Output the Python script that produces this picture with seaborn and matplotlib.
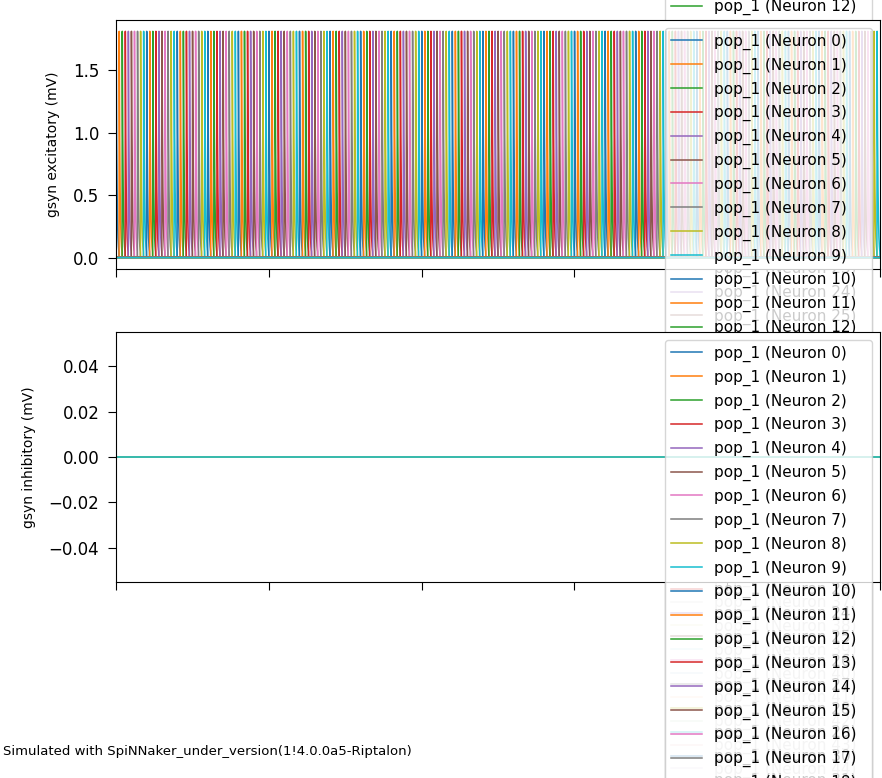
import numpy as np
import pandas as pd
import matplotlib
matplotlib.use("Agg")
import matplotlib.pyplot as plt
import seaborn as sns

# ---------------- data (read / estimated from the picture) ----------------
n_neurons = 200                      # pop_1 neurons (legend box sized for 3-digit labels)
sim_time_ms = 5000                   # x range: five equal tick intervals
time_step_ms = 1
chain_step_ms = 20                   # a synfire chain: neuron i is excited ~20 ms after neuron i-1
chain_loop_ms = 4000                 # the wave wraps round to neuron 0 after the last neuron
gsyn_exc_pulse = [0.0, 1.81, 1.48, 1.21, 0.99, 0.81, 0.67, 0.55, 0.45, 0.36,
                  0.30, 0.24, 0.20, 0.16, 0.13, 0.11, 0.09, 0.07, 0.06, 0.05]  # sampled pulse
gsyn_inh_level = 0.0                 # inhibitory conductance stays flat at 0
x_ticks = [0, 1000, 2000, 3000, 4000, 5000]
footer = "Simulated with SpiNNaker_under_version(1!4.0.0a5-Riptalon)"

labels = [f"pop_1 (Neuron {i})" for i in range(n_neurons)]
times = np.arange(0, sim_time_ms + time_step_ms, time_step_ms)

rows_exc, rows_inh = [], []
for i in range(n_neurons):
    trace = np.zeros(len(times))
    for loop_start in range(0, sim_time_ms, chain_loop_ms):
        t0 = loop_start + i * chain_step_ms
        for k, v in enumerate(gsyn_exc_pulse):
            idx = t0 + k
            if 0 <= idx < len(times):
                trace[idx] = max(trace[idx], v)
    rows_exc.append(pd.DataFrame({"t": times, "g": trace, "neuron": labels[i]}))
    rows_inh.append(pd.DataFrame({"t": times, "g": np.full(len(times), gsyn_inh_level),
                                  "neuron": labels[i]}))
df_exc = pd.concat(rows_exc, ignore_index=True)
df_inh = pd.concat(rows_inh, ignore_index=True)

palette = sns.color_palette("tab10", n_neurons)

# ---------------- figure ----------------
W, H = 882, 778
fig = plt.figure(figsize=(W / 100, H / 100), dpi=100)


def frac(left, top, right, bottom):
    return [left / W, 1 - bottom / H, (right - left) / W, (bottom - top) / H]


# panel above the visible area (only its legend reaches into view)
ax_hidden = fig.add_axes(frac(116, -301, 880, -52))
ax_top = fig.add_axes(frac(116, 20, 880, 269))
ax_bot = fig.add_axes(frac(116, 332, 880, 582))

panels = [
    (ax_hidden, df_inh, ""),
    (ax_top, df_exc, "gsyn excitatory (mV)"),
    (ax_bot, df_inh, "gsyn inhibitory (mV)"),
]
for ax, df, ylab in panels:
    sns.lineplot(data=df, x="t", y="g", hue="neuron", hue_order=labels,
                 palette=palette, estimator=None, legend=False,
                 linewidth=1.1, ax=ax, sort=False)
    ax.set_xlim(0, sim_time_ms)
    ax.set_xticks(x_ticks)
    ax.set_xticklabels([])
    ax.set_xlabel("")
    ax.set_ylabel(ylab, fontsize=10, labelpad=9)
    ax.tick_params(axis="y", labelsize=12, length=5.5, pad=6.5)
    ax.tick_params(axis="x", length=5.5)
    ax.legend(handles=ax.get_lines(), labels=labels, loc="upper right",
              fontsize=11)

ax_top.set_yticks([0.0, 0.5, 1.0, 1.5])
ax_bot.set_yticks([-0.04, -0.02, 0.0, 0.02, 0.04])

fig.text(3 / W, 1 - 752 / H, footer, fontsize=9.5, va="center", ha="left")

fig.savefig("out.png", dpi=100)
